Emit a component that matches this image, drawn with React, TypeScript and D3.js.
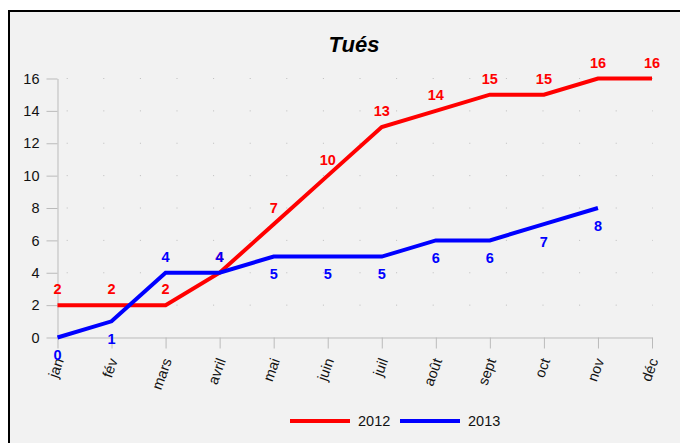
import React, { useEffect, useRef } from 'react';
import * as d3 from 'd3';

const months = ['janv', 'fév', 'mars', 'avril', 'mai', 'juin', 'juil', 'août', 'sept', 'oct', 'nov', 'déc'];
const monthLabels = ['jan', 'fév', 'mars', 'avril', 'mai', 'juin', 'juil', 'août', 'sept', 'oct', 'nov', 'déc'];
const killed2012 = [2, 2, 2, 4, 7, 10, 13, 14, 15, 15, 16, 16];
const killed2013 = [0, 1, 4, 4, 5, 5, 5, 6, 6, 7, 8];
const yTicks = [0, 2, 4, 6, 8, 10, 12, 14, 16];
const seriesNames = ['2012', '2013'];

const App = () => {
  const ref = useRef<SVGSVGElement>(null);

  useEffect(() => {
    const svg = d3.select(ref.current);
    svg.selectAll('*').remove();

    const font = 'Arial, "Liberation Sans", sans-serif';
    const axisColor = '#bbbbbb';
    const colors = ['#ff0000', '#0000ff'];

    // frame + background
    svg.append('rect')
      .attr('x', 9).attr('y', 11)
      .attr('width', 720).attr('height', 500)
      .attr('fill', '#f2f2f2')
      .attr('stroke', '#000')
      .attr('stroke-width', 2);

    const x = d3.scalePoint<string>()
      .domain(months)
      .range([57.5, 652]);

    const y = d3.scaleLinear()
      .domain([0, 16])
      .range([337.5, 78.5]);

    // title
    svg.append('text')
      .attr('x', 354).attr('y', 51.5)
      .attr('text-anchor', 'middle')
      .attr('font-family', font)
      .attr('font-size', 22)
      .attr('font-weight', 'bold')
      .attr('font-style', 'italic')
      .text('Tués');

    // dotted grid
    svg.append('g')
      .selectAll('line')
      .data(yTicks.filter(t => t > 0))
      .enter()
      .append('line')
      .attr('x1', 58).attr('x2', 653)
      .attr('y1', d => y(d)).attr('y2', d => y(d))
      .attr('stroke', '#bdbdbd')
      .attr('stroke-width', 1)
      .attr('stroke-dasharray', '1 35.6')
      .attr('stroke-dashoffset', 27.9);

    // y axis
    const yAxis = svg.append('g')
      .attr('transform', `translate(${x(months[0])},0)`)
      .call(d3.axisLeft(y).tickValues(yTicks).tickSize(11).tickPadding(7).tickSizeOuter(0));
    yAxis.select('.domain').attr('stroke', axisColor);
    yAxis.selectAll('.tick line').attr('stroke', axisColor);
    yAxis.selectAll('.tick text')
      .attr('font-family', font)
      .attr('font-size', 14.5)
      .attr('fill', '#111');

    // x axis
    const xAxis = svg.append('g')
      .attr('transform', `translate(0,${y(0)})`)
      .call(d3.axisBottom(x).tickSize(11).tickSizeOuter(0).tickFormat((d, i) => monthLabels[i]));
    xAxis.select('.domain').attr('stroke', axisColor);
    xAxis.selectAll('.tick line').attr('stroke', axisColor);
    xAxis.selectAll('.tick text')
      .attr('font-family', font)
      .attr('font-size', 14.5)
      .attr('fill', '#111')
      .attr('text-anchor', 'end')
      .attr('transform', 'translate(6,23) rotate(-70)')
      .attr('x', 0).attr('y', 0)
      .attr('dy', 0);

    // lines
    const line = d3.line<number>()
      .x((d, i) => x(months[i]) as number)
      .y(d => y(d));

    [killed2012, killed2013].forEach((values, s) => {
      svg.append('path')
        .datum(values)
        .attr('fill', 'none')
        .attr('stroke', colors[s])
        .attr('stroke-width', 4)
        .attr('d', line);
    });

    // value labels
    const labels = svg.append('g')
      .attr('font-family', font)
      .attr('font-size', 14.5)
      .attr('font-weight', 'bold')
      .attr('text-anchor', 'middle');

    labels.selectAll('.l2012')
      .data(killed2012)
      .enter()
      .append('text')
      .attr('x', (d, i) => x(months[i]) as number)
      .attr('y', d => y(d) - 11)
      .attr('fill', colors[0])
      .text(d => d);

    labels.selectAll('.l2013')
      .data(killed2013)
      .enter()
      .append('text')
      .attr('x', (d, i) => x(months[i]) as number)
      .attr('y', (d, i) => (d >= killed2012[i] ? y(d) - 11 : y(d) + 22.5))
      .attr('fill', colors[1])
      .text(d => d);

    // legend
    const legendX = [290, 400];
    seriesNames.forEach((name, s) => {
      svg.append('line')
        .attr('x1', legendX[s]).attr('x2', legendX[s] + 60)
        .attr('y1', 421).attr('y2', 421)
        .attr('stroke', colors[s])
        .attr('stroke-width', 4);
      svg.append('text')
        .attr('x', legendX[s] + 68).attr('y', 426)
        .attr('font-family', font)
        .attr('font-size', 14.5)
        .attr('fill', '#111')
        .text(name);
    });
  }, []);

  return (
    <svg
      ref={ref}
      width={680}
      height={443}
      style={{ position: 'absolute', left: 0, top: 0, display: 'block' }}
    />
  );
};

export default App;
